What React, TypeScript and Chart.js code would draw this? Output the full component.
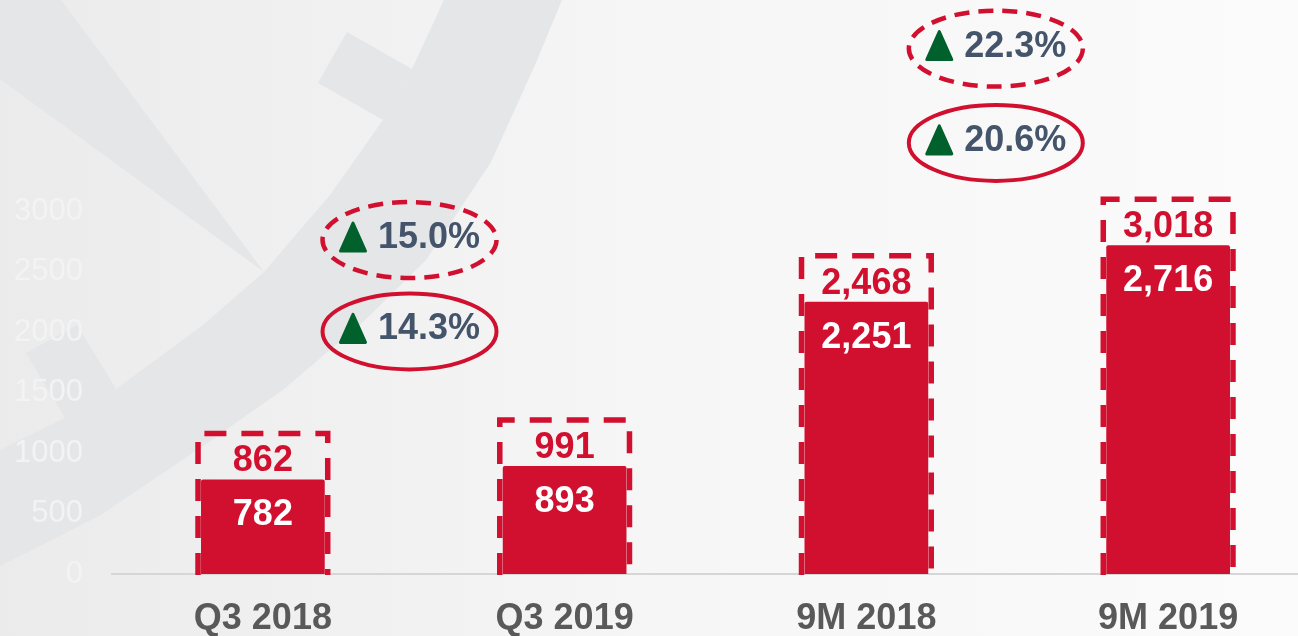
import React, { useEffect, useRef } from 'react';
import { Chart, registerables } from 'chart.js';

Chart.register(...registerables);

// ---- data ----
const categories = ['Q3 2018', 'Q3 2019', '9M 2018', '9M 2019'];
const reportedValues = [782, 893, 2251, 2716];
const adjustedValues = [862, 991, 2468, 3018];
const yTickValues = [0, 500, 1000, 1500, 2000, 2500, 3000];
const reportedGrowth = [14.3, 20.6];
const adjustedGrowth = [15.0, 22.3];

// ---- style / layout constants ----
const RED = '#D10F2F';
const GREEN = '#00612C';
const SLATE = '#44546A';
const FONT = '"Liberation Sans", Arial, sans-serif';
const CANVAS_W = 1330;
const CANVAS_H = 636;

// growth callouts placed in data space: category position (fractional index) and value level
const GROWTH_PLACEMENT = [
  { xIndex: 0.486, solidLevel: 2005, dashedLevel: 2760 },
  { xIndex: 2.429, solidLevel: 3563, dashedLevel: 4342 },
];

const backgroundPlugin = {
  id: 'bgDecor',
  beforeDraw(chart: any) {
    const ctx = chart.ctx;
    const w = chart.width;
    const h = chart.height;
    ctx.save();
    const g = ctx.createLinearGradient(0, 0, w, 0);
    g.addColorStop(0, '#ebebeb');
    g.addColorStop(0.5, '#f6f6f6');
    g.addColorStop(1, '#fbfbfb');
    ctx.fillStyle = g;
    ctx.fillRect(0, 0, w, h);
    ctx.fillStyle = '#e5e6e8';
    const poly = (pts: number[][]) => {
      ctx.beginPath();
      ctx.moveTo(pts[0][0], pts[0][1]);
      for (let i = 1; i < pts.length; i++) ctx.lineTo(pts[i][0], pts[i][1]);
      ctx.closePath();
      ctx.fill();
    };
    // top-left wedge
    poly([[0, 0], [61, 0], [264, 272], [0, 79]]);
    // big curved band
    poly([
      [444, 0], [412, 69], [383, 120], [330, 195], [264, 272], [203, 325], [116, 389], [65, 418], [0, 450],
      [0, 566], [101, 515], [203, 446], [284, 389], [365, 320], [426, 260], [491, 162], [535, 65], [562, 0],
    ]);
    // notches
    poly([[347, 32], [412, 69], [383, 120], [318, 83]]);
    poly([[26, 353], [77, 325], [116, 389], [65, 418]]);
    ctx.restore();
  },
};

const annotatePlugin = {
  id: 'annotate',
  afterDatasetsDraw(chart: any) {
    const ctx = chart.ctx;
    const red = chart.getDatasetMeta(0);
    const adj = chart.getDatasetMeta(1);
    const yScale = chart.scales.y;
    const xScale = chart.scales.x;
    const base = yScale.getPixelForValue(0);
    ctx.save();
    red.data.forEach((bar: any, i: number) => {
      const adjBar = adj.data[i];
      const half = bar.width / 2;
      const top = Math.min(adjBar.y, bar.y - 46);
      const l = bar.x - half - 3;
      const r = bar.x + half + 3;
      const b = base + 1;
      ctx.strokeStyle = RED;
      ctx.lineWidth = 5.5;
      ctx.setLineDash([22, 15]);
      ctx.lineJoin = 'miter';
      ctx.beginPath();
      ctx.moveTo(l, b);
      ctx.lineTo(l, top);
      ctx.lineTo(r, top);
      ctx.lineTo(r, b);
      ctx.stroke();
      ctx.setLineDash([]);
      ctx.textAlign = 'center';
      ctx.textBaseline = 'middle';
      ctx.font = `bold 36px ${FONT}`;
      ctx.fillStyle = RED;
      ctx.fillText(adjustedValues[i].toLocaleString('en-US'), bar.x, bar.y - 18);
      ctx.fillStyle = '#ffffff';
      ctx.fillText(reportedValues[i].toLocaleString('en-US'), bar.x, bar.y + 36);
    });

    const drawCallout = (cx: number, cy: number, value: number, dashed: boolean) => {
      ctx.beginPath();
      ctx.ellipse(cx, cy, 87, 38, 0, 0, Math.PI * 2);
      ctx.strokeStyle = RED;
      ctx.lineWidth = dashed ? 4.5 : 4;
      ctx.setLineDash(dashed ? [15, 9] : []);
      ctx.stroke();
      ctx.setLineDash([]);
      const text = value.toFixed(1) + '%';
      ctx.font = `bold 36px ${FONT}`;
      const tw = ctx.measureText(text).width;
      const triW = 28;
      const triH = 31;
      const gap = 11;
      const start = cx - (triW + gap + tw) / 2;
      const ty = cy - 3;
      ctx.fillStyle = GREEN;
      ctx.strokeStyle = GREEN;
      ctx.lineWidth = 3;
      ctx.lineJoin = 'round';
      ctx.beginPath();
      ctx.moveTo(start + 1.5, ty + triH / 2 - 1.5);
      ctx.lineTo(start + triW / 2, ty - triH / 2 + 1.5);
      ctx.lineTo(start + triW - 1.5, ty + triH / 2 - 1.5);
      ctx.closePath();
      ctx.fill();
      ctx.stroke();
      ctx.fillStyle = SLATE;
      ctx.textAlign = 'left';
      ctx.textBaseline = 'middle';
      ctx.fillText(text, start + triW + gap, ty + 1);
    };

    GROWTH_PLACEMENT.forEach((p, k) => {
      const i0 = Math.floor(p.xIndex);
      const frac = p.xIndex - i0;
      const p0 = xScale.getPixelForTick(i0);
      const p1 = xScale.getPixelForTick(i0 + 1);
      const cx = p0 + (p1 - p0) * frac;
      drawCallout(cx, yScale.getPixelForValue(p.dashedLevel), adjustedGrowth[k], true);
      drawCallout(cx, yScale.getPixelForValue(p.solidLevel), reportedGrowth[k], false);
    });
    ctx.restore();
  },
};

export default function App() {
  const canvasRef = useRef<HTMLCanvasElement | null>(null);

  useEffect(() => {
    const canvas = canvasRef.current;
    if (!canvas) return;
    const chart = new Chart(canvas, {
      type: 'bar',
      data: {
        labels: categories,
        datasets: [
          {
            label: 'Reported',
            data: reportedValues,
            backgroundColor: RED,
            borderWidth: 0,
            borderRadius: { topLeft: 2, topRight: 2, bottomLeft: 0, bottomRight: 0 },
            borderSkipped: 'bottom',
            grouped: false,
            barPercentage: 0.41,
            categoryPercentage: 1,
            order: 1,
          },
          {
            label: 'Adjusted',
            data: adjustedValues,
            backgroundColor: 'rgba(0,0,0,0)',
            borderWidth: 0,
            grouped: false,
            barPercentage: 0.41,
            categoryPercentage: 1,
            order: 2,
          },
        ],
      },
      options: {
        responsive: false,
        animation: false,
        events: [],
        layout: { padding: { top: 211, right: 11, left: 0, bottom: 0 } },
        plugins: {
          legend: { display: false },
          tooltip: { enabled: false },
        },
        scales: {
          x: {
            grid: { display: false, drawTicks: false },
            border: { display: true, color: '#d6d6d6', width: 2 },
            ticks: {
              color: '#595959',
              font: { family: FONT, size: 36, weight: 'bold' },
              padding: 23,
              maxRotation: 0,
              autoSkip: false,
            },
            afterFit(scale: any) {
              scale.height = 62;
            },
          },
          y: {
            min: 0,
            max: yTickValues[yTickValues.length - 1],
            afterBuildTicks(scale: any) {
              scale.ticks = yTickValues.map((v) => ({ value: v }));
            },
            grid: { display: false, drawTicks: false },
            border: { display: false },
            ticks: {
              color: '#f3f3f3',
              font: { family: FONT, size: 31 },
              padding: 29,
              callback: (v: any) => String(v),
            },
            afterFit(scale: any) {
              scale.width = 112;
            },
          },
        },
      },
      plugins: [backgroundPlugin, annotatePlugin],
    } as any);
    return () => chart.destroy();
  }, []);

  return (
    <div style={{ position: 'fixed', left: 0, top: 0, width: '100vw', height: '100vh', overflow: 'hidden', background: '#f4f4f4' }}>
      <canvas ref={canvasRef} width={CANVAS_W} height={CANVAS_H} style={{ display: 'block', width: CANVAS_W, height: CANVAS_H }} />
    </div>
  );
}
